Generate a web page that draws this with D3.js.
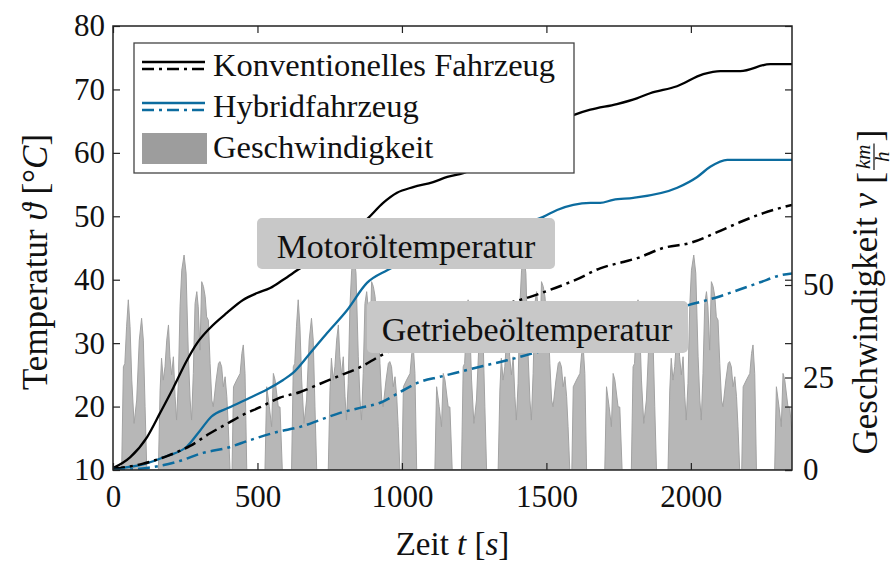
<!DOCTYPE html>
<html><head><meta charset="utf-8">
<script src="https://cdn.jsdelivr.net/npm/d3@7"></script>
<style>
body{margin:0;background:#fff}
text{font-family:"Liberation Serif","DejaVu Serif",serif;fill:#111}
</style>
</head><body>
<svg id="c" width="893" height="561"></svg>
<script>
// ---------- data ----------
const timeTicks = [0, 500, 1000, 1500, 2000];
const tempTicks = [10, 20, 30, 40, 50, 60, 70, 80];
const speedTicks = [0, 25, 50];
const legendLabels = ["Konventionelles Fahrzeug", "Hybridfahrzeug", "Geschwindigkeit"];
const boxLabels = ["Motoröltemperatur", "Getriebeöltemperatur"];

// [time s, temperature °C]
const konvMotor = [[0,10.3],[59,12.0],[118,15.2],[163,19.0],[208,22.9],[256,27.3],[291,30.0],[336,32.4],[395,34.8],[450,36.8],[499,37.9],[544,38.7],[589,40.0],[648,41.8],[751,44.7],[821,47.2],[883,49.7],[935,52.1],[983,53.7],[1039,54.6],[1108,55.4],[1157,56.2],[1212,56.8],[1340,59.7],[1479,63.6],[1596,66.0],[1652,66.8],[1744,67.7],[1813,68.6],[1859,69.4],[1952,70.5],[2043,72.4],[2102,72.9],[2171,72.9],[2275,74.0],[2350,74.0]];
const hybMotor = [[0,10.2],[104,10.9],[187,12.2],[256,13.7],[301,16.2],[340,18.4],[400,19.8],[474,21.4],[533,22.7],[589,24.2],[623,25.3],[682,28.4],[741,31.6],[810,35.2],[879,39.5],[949,41.5],[1063,43.9],[1202,46.3],[1340,48.2],[1489,49.9],[1537,51.0],[1593,51.8],[1652,52.1],[1686,52.1],[1731,52.6],[1801,52.9],[1953,54.5],[2022,56.2],[2067,57.8],[2126,58.9],[2350,58.9]];
const konvGetriebe = [[0,10.2],[104,11.0],[187,12.2],[267,13.8],[336,15.8],[395,17.3],[450,18.7],[509,19.9],[578,21.4],[648,22.3],[717,23.6],[786,24.9],[855,26.2],[925,28.0],[1063,30.8],[1202,33.6],[1340,35.9],[1444,37.3],[1513,38.4],[1607,40.1],[1686,41.8],[1766,42.8],[1814,43.4],[1904,45.0],[1998,45.8],[2091,47.5],[2171,49.1],[2251,50.5],[2350,51.8]];
const hybGetriebe = [[0,10.0],[93,10.2],[222,11.3],[312,12.7],[395,13.5],[474,14.7],[568,16.0],[648,16.8],[717,17.9],[786,19.0],[855,19.8],[925,20.6],[994,22.3],[1063,23.9],[1132,24.7],[1184,25.3],[1281,26.4],[1364,27.3],[1454,28.4],[1600,30.3],[1750,32.6],[1900,34.8],[1991,36.0],[2057,36.8],[2102,37.4],[2171,38.5],[2240,39.6],[2310,40.7],[2350,41.0]];

// [time s, speed km/h] — the driving cycle
const speedCycle1 = [[0,0],[30,0],[36,27.9],[41,28.8],[47,38.7],[53,46],[59,38.7],[65,24.3],[73,12.6],[82,18.9],[91,35.1],[99,41],[105,35.1],[111,17.1],[117,0],[157,0],[163,21.6],[168,30.2],[174,24.3],[180,27.9],[186,35.1],[192,39.2],[197,30.6],[203,25.7],[209,30.6],[215,19.8],[220,13.5],[226,23.4],[232,44.1],[238,54],[246,58.1],[253,53.2],[261,30.6],[267,18.9],[272,13.5],[278,26.1],[284,45],[290,48.2],[295,44.1],[301,32.4],[307,50.9],[313,49.6],[319,46.9],[324,41.4],[330,40.5],[336,28.8],[342,18.9],[347,17.1],[357,24.3],[365,28.8],[370,29.3],[376,27.9],[382,22.5],[388,25.2],[394,19.8],[399,11.7],[405,0],[412,0],[417,22.5],[428,24.3],[440,26.1],[446,31.5],[451,33.8],[457,26.1],[463,0],[526,0],[532,22.5],[541,17.1],[549,11.7],[555,26.1],[561,24.3],[572,17.1],[578,17],[586,0]];
const speedCycle2 = [[588,0],[618,0],[624,27.9],[629,28.8],[635,38.7],[641,46],[647,38.7],[653,24.3],[661,12.6],[670,18.9],[679,35.1],[687,41],[693,35.1],[699,17.1],[705,0],[745,0],[751,21.6],[756,30.2],[762,24.3],[768,27.9],[774,35.1],[780,39.2],[785,30.6],[791,25.7],[797,30.6],[803,19.8],[808,13.5],[814,23.4],[820,44.1],[826,54],[834,58.1],[841,53.2],[849,30.6],[855,18.9],[860,13.5],[866,26.1],[872,45],[878,48.2],[883,44.1],[889,32.4],[895,50.9],[901,49.6],[907,46.9],[912,41.4],[918,40.5],[924,28.8],[930,18.9],[935,17.1],[945,24.3],[953,28.8],[958,29.3],[964,27.9],[970,22.5],[976,25.2],[982,19.8],[987,11.7],[993,0],[1000,0],[1005,22.5],[1016,24.3],[1028,26.1],[1034,31.5],[1039,33.8],[1045,26.1],[1051,0],[1114,0],[1120,22.5],[1129,17.1],[1137,11.7],[1143,26.1],[1149,24.3],[1160,17.1],[1166,17],[1174,0]];
const speedCycle3 = [[1176,0],[1206,0],[1212,27.9],[1217,28.8],[1223,38.7],[1229,46],[1235,38.7],[1241,24.3],[1249,12.6],[1258,18.9],[1267,35.1],[1275,41],[1281,35.1],[1287,17.1],[1293,0],[1333,0],[1339,21.6],[1344,30.2],[1350,24.3],[1356,27.9],[1362,35.1],[1368,39.2],[1373,30.6],[1379,25.7],[1385,30.6],[1391,19.8],[1396,13.5],[1402,23.4],[1408,44.1],[1414,54],[1422,58.1],[1429,53.2],[1437,30.6],[1443,18.9],[1448,13.5],[1454,26.1],[1460,45],[1466,48.2],[1471,44.1],[1477,32.4],[1483,50.9],[1489,49.6],[1495,46.9],[1500,41.4],[1506,40.5],[1512,28.8],[1518,18.9],[1523,17.1],[1533,24.3],[1541,28.8],[1546,29.3],[1552,27.9],[1558,22.5],[1564,25.2],[1570,19.8],[1575,11.7],[1581,0],[1588,0],[1593,22.5],[1604,24.3],[1616,26.1],[1622,31.5],[1627,33.8],[1633,26.1],[1639,0],[1702,0],[1708,22.5],[1717,17.1],[1725,11.7],[1731,26.1],[1737,24.3],[1748,17.1],[1754,17],[1762,0]];
const speedCycle4 = [[1764,0],[1794,0],[1800,27.9],[1805,28.8],[1811,38.7],[1817,46],[1823,38.7],[1829,24.3],[1837,12.6],[1846,18.9],[1855,35.1],[1863,41],[1869,35.1],[1875,17.1],[1881,0],[1921,0],[1927,21.6],[1932,30.2],[1938,24.3],[1944,27.9],[1950,35.1],[1956,39.2],[1961,30.6],[1967,25.7],[1973,30.6],[1979,19.8],[1984,13.5],[1990,23.4],[1996,44.1],[2002,54],[2010,58.1],[2017,53.2],[2025,30.6],[2031,18.9],[2036,13.5],[2042,26.1],[2048,45],[2054,48.2],[2059,44.1],[2065,32.4],[2071,50.9],[2077,49.6],[2083,46.9],[2088,41.4],[2094,40.5],[2100,28.8],[2106,18.9],[2111,17.1],[2121,24.3],[2129,28.8],[2134,29.3],[2140,27.9],[2146,22.5],[2152,25.2],[2158,19.8],[2163,11.7],[2169,0],[2176,0],[2181,22.5],[2192,24.3],[2204,26.1],[2210,31.5],[2215,33.8],[2221,26.1],[2227,0],[2290,0],[2296,22.5],[2305,17.1],[2313,11.7],[2319,26.1],[2325,24.3],[2336,17.1],[2342,17],[2350,10]];
const speed = speedCycle1.concat(speedCycle2, speedCycle3, speedCycle4);

// ---------- layout ----------
const L = 113, R = 792, T = 26, B = 470;
const BLUE = "#0c6c9f";
const FONT = '"Liberation Serif","DejaVu Serif",serif';
const svg = d3.select("#c");

const x = d3.scaleLinear().domain([0, 2350]).range([L, R]);
const yT = d3.scaleLinear().domain([10, 80]).range([B, T]);
const yV = d3.scaleLinear().domain([0, 120]).range([B, T]);

svg.append("clipPath").attr("id", "clip").append("rect")
  .attr("x", L).attr("y", T).attr("width", R - L).attr("height", B - T);
const plot = svg.append("g").attr("clip-path", "url(#clip)");

// speed area
plot.append("path").datum(speed)
  .attr("d", d3.area().x(d => x(d[0])).y0(yV(0)).y1(d => yV(d[1])))
  .attr("fill", "#b7b7b7").attr("stroke", "#a2a2a2").attr("stroke-width", 1);

// temperature lines
const line = d3.line().x(d => x(d[0])).y(d => yT(d[1])).curve(d3.curveMonotoneX);
const DASH = "12,5,3,5";
const series = [
  {data: konvMotor, color: "#000", dash: null},
  {data: hybMotor, color: BLUE, dash: null},
  {data: konvGetriebe, color: "#000", dash: DASH},
  {data: hybGetriebe, color: BLUE, dash: DASH}
];
series.forEach(s => {
  plot.append("path").datum(s.data).attr("d", line)
    .attr("fill", "none").attr("stroke", s.color).attr("stroke-width", s.dash ? 2.5 : 2.3)
    .attr("stroke-dasharray", s.dash);
});

// annotation boxes
const boxes = [
  {label: boxLabels[0], x: 257, y: 218, w: 298, h: 51, tx: 406, ty: 258},
  {label: boxLabels[1], x: 367, y: 301, w: 321, h: 52, tx: 527, ty: 341}
];
boxes.forEach(b => {
  svg.append("rect").attr("x", b.x).attr("y", b.y).attr("width", b.w).attr("height", b.h)
    .attr("rx", 5).attr("fill", "#c8c8c8");
  svg.append("text").attr("x", b.tx).attr("y", b.ty).attr("text-anchor", "middle")
    .attr("font-size", 34).text(b.label);
});

// legend
const lg = svg.append("g");
lg.append("rect").attr("x", 134).attr("y", 43).attr("width", 440).attr("height", 130)
  .attr("fill", "#fff").attr("stroke", "#444").attr("stroke-width", 1.3);
const legendItems = [
  {color: "#000", y: 62, ty: 76},
  {color: BLUE, y: 103, ty: 117}
];
legendItems.forEach((it, i) => {
  lg.append("line").attr("x1", 142).attr("x2", 205).attr("y1", it.y).attr("y2", it.y)
    .attr("stroke", it.color).attr("stroke-width", 2.3);
  lg.append("line").attr("x1", 142).attr("x2", 205).attr("y1", it.y + 7).attr("y2", it.y + 7)
    .attr("stroke", it.color).attr("stroke-width", 2.5).attr("stroke-dasharray", DASH);
  lg.append("text").attr("x", 213).attr("y", it.ty).attr("font-size", 32.5).text(legendLabels[i]);
});
lg.append("rect").attr("x", 142).attr("y", 133).attr("width", 65).attr("height", 31)
  .attr("fill", "#9d9d9d");
lg.append("text").attr("x", 213).attr("y", 158).attr("font-size", 32.5).text(legendLabels[2]);

// axes
function style(g) {
  g.attr("font-family", FONT).attr("font-size", 31);
  g.select(".domain").remove();
  g.selectAll(".tick line").attr("stroke", "#222").attr("stroke-width", 1.2);
  g.selectAll(".tick text").attr("fill", "#111");
}
const fmt = d3.format("d");
svg.append("g").attr("transform", `translate(${L},0)`)
  .call(d3.axisLeft(yT).tickValues(tempTicks).tickFormat(fmt).tickSize(-7).tickPadding(8)).call(style);
svg.append("g").attr("transform", `translate(${R},0)`)
  .call(d3.axisLeft(yT).tickValues(tempTicks).tickSize(7).tickFormat("")).call(style);
svg.append("g").attr("transform", `translate(${R},0)`)
  .call(d3.axisRight(yV).tickValues(speedTicks).tickFormat(fmt).tickSize(-7).tickPadding(11)).call(style);
svg.append("g").attr("transform", `translate(0,${B})`)
  .call(d3.axisBottom(x).tickValues(timeTicks).tickFormat(fmt).tickSize(-7).tickPadding(15)).call(style);
svg.append("g").attr("transform", `translate(0,${T})`)
  .call(d3.axisTop(x).tickValues(timeTicks).tickSize(-7).tickFormat("")).call(style);

// frame
svg.append("rect").attr("x", L).attr("y", T).attr("width", R - L).attr("height", B - T)
  .attr("fill", "none").attr("stroke", "#222").attr("stroke-width", 1.5);

// axis titles
const xt = svg.append("text").attr("x", (L + R) / 2).attr("y", 555).attr("text-anchor", "middle")
  .attr("font-size", 33);
xt.append("tspan").text("Zeit ");
xt.append("tspan").attr("font-style", "italic").text("t");
xt.append("tspan").text(" [");
xt.append("tspan").attr("font-style", "italic").text("s");
xt.append("tspan").text("]");

const yt = svg.append("text").attr("transform", "translate(47,262) rotate(-90)")
  .attr("text-anchor", "middle").attr("font-size", 35);
yt.append("tspan").text("Temperatur ");
yt.append("tspan").attr("font-style", "italic").text("ϑ");
yt.append("tspan").text(" [°");
yt.append("tspan").attr("font-style", "italic").text("C");
yt.append("tspan").text("]");

// right title with fraction km/h
const gR = svg.append("g").attr("transform", "translate(877,292) rotate(-90)");
const t1 = gR.append("text").attr("font-size", 35);
t1.append("tspan").text("Geschwindigkeit ");
t1.append("tspan").attr("font-style", "italic").text("v");
const w1 = t1.node().getComputedTextLength();
const lb = gR.append("text").attr("font-size", 36).attr("y", 5).text("[");
const wb = lb.node().getComputedTextLength();
const km = gR.append("text").attr("font-size", 21).attr("font-style", "italic").attr("y", -7)
  .attr("text-anchor", "middle").text("km");
const hh = gR.append("text").attr("font-size", 21).attr("font-style", "italic").attr("y", 12)
  .attr("text-anchor", "middle").text("h");
const wf = km.node().getComputedTextLength() + 6;
const rb = gR.append("text").attr("font-size", 36).attr("y", 5).text("]");
const gap = 9;
const total = w1 + gap + wb + wf + wb;
let cx = -total / 2;
t1.attr("x", cx); cx += w1 + gap;
lb.attr("x", cx); cx += wb;
km.attr("x", cx + wf / 2); hh.attr("x", cx + wf / 2);
gR.append("line").attr("x1", cx + 2).attr("x2", cx + wf - 2).attr("y1", -3).attr("y2", -3)
  .attr("stroke", "#111").attr("stroke-width", 1.2);
cx += wf;
rb.attr("x", cx);
</script>
</body></html>
